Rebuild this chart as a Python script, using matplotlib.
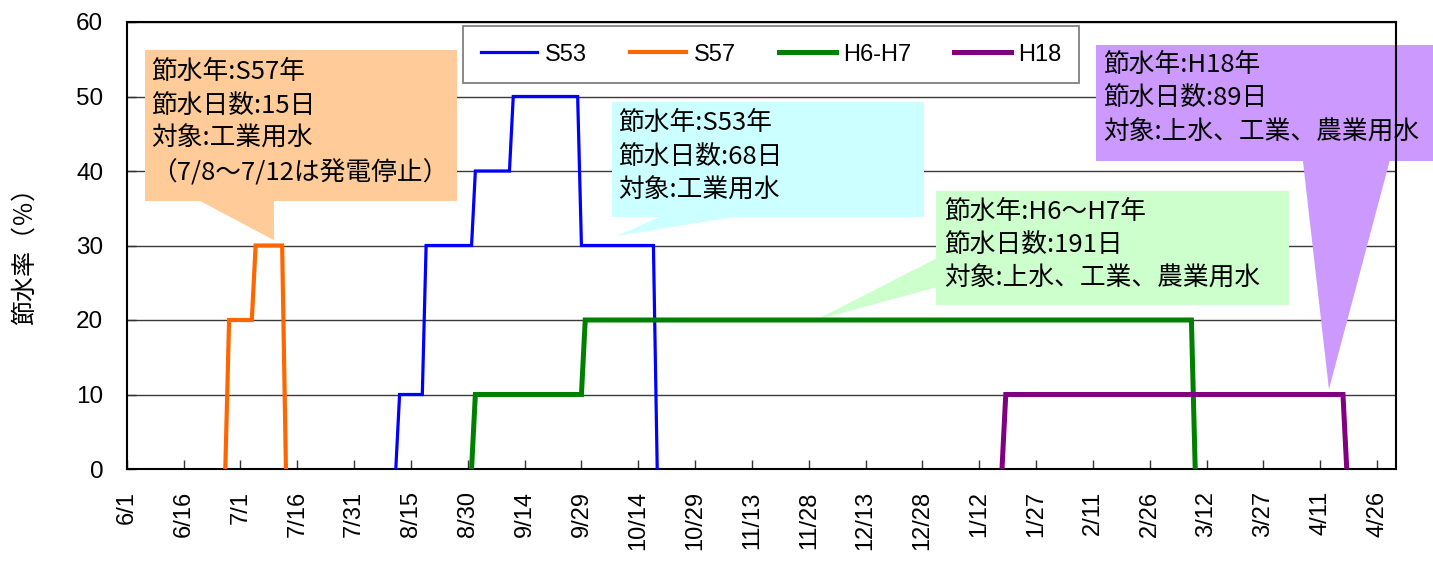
import datetime as dt

import matplotlib
matplotlib.use("Agg")
import matplotlib.pyplot as plt
from matplotlib.patches import Polygon

plt.rcParams['font.family'] = ['Liberation Sans', 'Noto Sans CJK JP']
CJK = ['Noto Sans CJK JP', 'Liberation Sans']

# ---- data -------------------------------------------------------------
tick_labels = ["6/1", "6/16", "7/1", "7/16", "7/31", "8/15", "8/30", "9/14",
               "9/29", "10/14", "10/29", "11/13", "11/28", "12/13", "12/28",
               "1/12", "1/27", "2/11", "2/26", "3/12", "3/27", "4/11", "4/26"]
axis_last = "5/1"

series_names = ["S53", "S57", "H6-H7", "H18"]

# start date of each restriction step, rate (%) of that step, last restricted day
s53_starts = ["8/12", "8/19", "9/1", "9/11", "9/29"]
s53_rates = [10, 30, 40, 50, 30]
s53_last = "10/18"

s57_starts = ["6/28", "7/5"]
s57_rates = [20, 30]
s57_last = "7/12"

h6h7_starts = ["9/1", "9/30"]
h6h7_rates = [10, 20]
h6h7_last = "3/8"

h18_starts = ["1/19"]
h18_rates = [10]
h18_last = "4/17"

notes_s57 = ["節水年:S57年", "節水日数:15日", "対象:工業用水", "（7/8～7/12は発電停止）"]
notes_s53 = ["節水年:S53年", "節水日数:68日", "対象:工業用水"]
notes_h6h7 = ["節水年:H6～H7年", "節水日数:191日", "対象:上水、工業、農業用水"]
notes_h18 = ["節水年:H18年", "節水日数:89日", "対象:上水、工業、農業用水"]

y_title = "節水率（％）"


# ---- helpers ----------------------------------------------------------
def day_of(md):
    """Days since 6/1 on a June-to-May axis (February has 29 days)."""
    m, d = map(int, md.split("/"))
    year = 2003 if m >= 6 else 2004
    return (dt.date(year, m, d) - dt.date(2003, 6, 1)).days


def daily(starts, rates, last):
    """Daily restriction rate, from the day before the first step to the day after the last."""
    s_days = [day_of(s) for s in starts]
    end = day_of(last)
    xs, ys = [], []
    for d in range(s_days[0] - 1, end + 2):
        val = 0
        if s_days[0] <= d <= end:
            for sd, r in zip(s_days, rates):
                if d >= sd:
                    val = r
        xs.append(d)
        ys.append(val)
    return xs, ys


# ---- figure -----------------------------------------------------------
W, H = 1433, 563
fig = plt.figure(figsize=(W / 100, H / 100), dpi=100)
ax = fig.add_axes([126.8 / W, (H - 469) / H, (1396 - 126.8) / W, (469 - 22) / H])

ax.set_xlim(0, day_of(axis_last))
ax.set_ylim(0, 60)

ax.set_axisbelow(True)
ax.yaxis.grid(True, color='#3a3a3a', linewidth=1.0)
ax.set_yticks(range(0, 61, 10))
ax.set_xticks([day_of(t) for t in tick_labels])
ax.set_xticklabels(tick_labels, rotation=90, va='top', ha='center')
ax.tick_params(axis='x', direction='in', length=6.5, width=1.0, color='#333333',
               labelsize=17, pad=16)
ax.tick_params(axis='y', direction='in', length=6.5, width=1.0, color='#333333',
               labelsize=17.5, pad=17)
for side in ax.spines.values():
    side.set_linewidth(1.5)
    side.set_color('black')

fig.text(25 / W, 1 - 250 / H, y_title, family=CJK, fontsize=18,
         rotation=90, ha='center', va='center', rotation_mode='anchor')

# ---- restriction lines ------------------------------------------------
styles = [("#0000FF", 2.3), ("#FF6600", 3.0), ("#008000", 3.6), ("#800080", 3.6)]
all_series = [(s53_starts, s53_rates, s53_last),
              (s57_starts, s57_rates, s57_last),
              (h6h7_starts, h6h7_rates, h6h7_last),
              (h18_starts, h18_rates, h18_last)]
handles = []
for name, (starts, rates, last), (col, lw) in zip(series_names, all_series, styles):
    xs, ys = daily(starts, rates, last)
    ln, = ax.plot(xs, ys, color=col, linewidth=lw, solid_joinstyle='miter',
                  zorder=3, label=name)
    handles.append(ln)

# ---- callouts ---------------------------------------------------------
def callout(box, pointer, color, lines, text_x, text_ys):
    x0, x1, y0, y1 = box
    ax.add_patch(Polygon([(x0, y0), (x1, y0), (x1, y1), (x0, y1)], closed=True,
                         facecolor=color, edgecolor='none', zorder=2, clip_on=False))
    ax.add_patch(Polygon(pointer, closed=True, facecolor=color, edgecolor='none',
                         zorder=2, clip_on=False))
    for s, ty in zip(lines, text_ys):
        ax.text(text_x, ty, s, family=CJK, fontsize=18.5, ha='left', va='center',
                color='black', zorder=4, clip_on=False)


callout((4.8, 87.1, 35.97, 56.24),
        [(18.5, 36.2), (38.8, 36.2), (38.9, 30.7)],
        '#FFCC99', notes_s57, 6.4, [53.3, 48.7, 44.3, 39.7])
callout((128.1, 210.4, 33.83, 49.26),
        [(141.5, 34.0), (162.6, 34.0), (129.4, 31.3)],
        '#CCFFFF', notes_s53, 129.7, [46.4, 41.9, 37.4])
callout((213.6, 306.7, 22.0, 37.3),
        [(213.8, 28.3), (213.8, 24.4), (181.9, 20.0)],
        '#CCFFCC', notes_h6h7, 215.7, [34.5, 30.1, 25.6])
callout((255.8, 347.0, 41.3, 56.9),
        [(310.4, 41.5), (333.4, 41.5), (317.3, 10.7)],
        '#CC99FF', notes_h18, 257.7, [54.2, 49.8, 45.1])

# ---- legend -----------------------------------------------------------
leg = ax.legend(handles, series_names, loc='upper left',
                bbox_to_anchor=(0.2649, 0.8591, 0.4853, 0.132), mode='expand',
                ncol=4, fontsize=17, frameon=True, fancybox=False,
                edgecolor='#808080', framealpha=1, borderpad=0.75,
                handlelength=2.4, handletextpad=0.3, borderaxespad=0)
leg.get_frame().set_linewidth(1.3)
leg.set_zorder(5)

fig.savefig("out.png", dpi=100, facecolor='white')
